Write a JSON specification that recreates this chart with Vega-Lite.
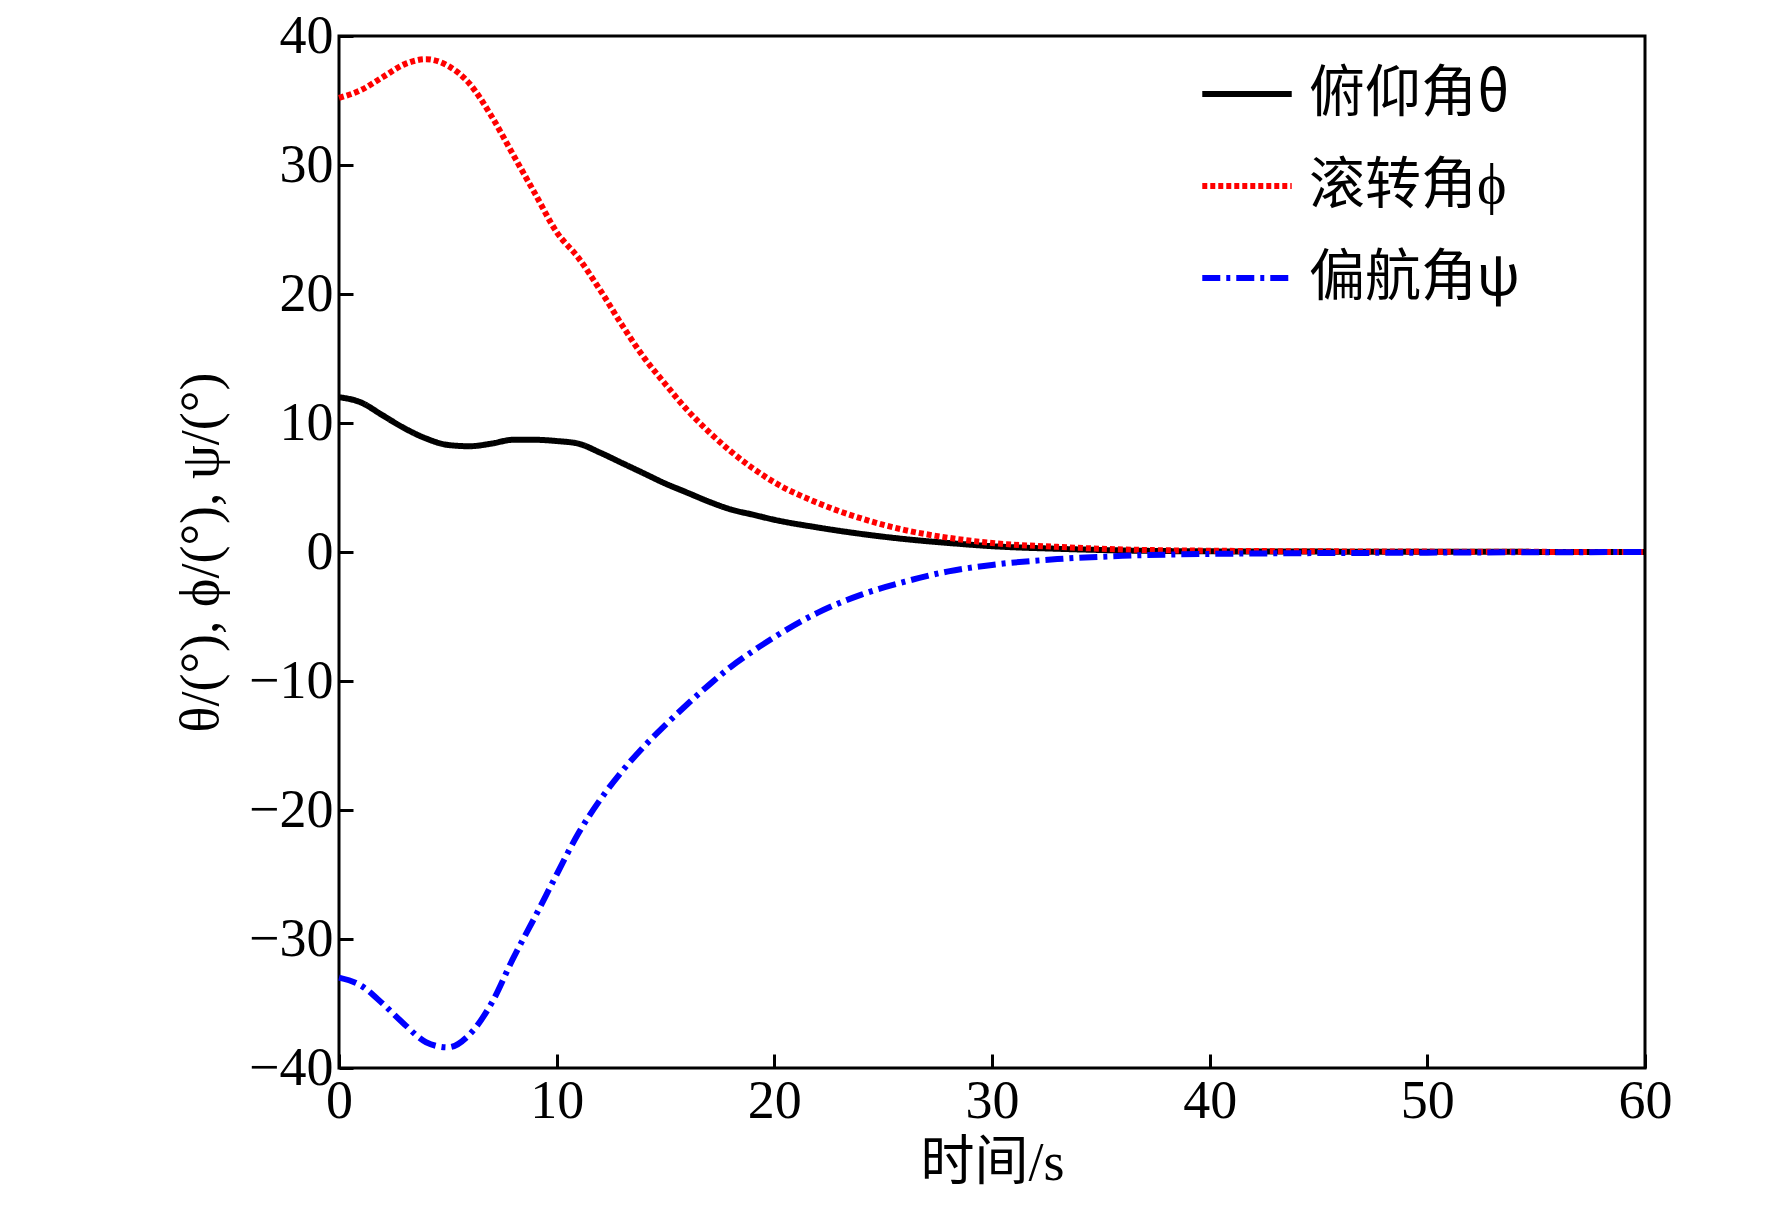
{
  "$schema": "https://vega.github.io/schema/vega-lite/v6.json",
  "width": 1306,
  "height": 1032,
  "autosize": "none",
  "padding": {"left": 339, "top": 36, "right": 127, "bottom": 164},
  "background": "white",
  "data": {
    "values": [
      {"t":0,"v":12,"s":"俯仰角θ"},{"t":1,"v":11.6,"s":"俯仰角θ"},{"t":2,"v":10.6,"s":"俯仰角θ"},{"t":3,"v":9.6,"s":"俯仰角θ"},{"t":4,"v":8.8,"s":"俯仰角θ"},{"t":5,"v":8.3,"s":"俯仰角θ"},{"t":6,"v":8.2,"s":"俯仰角θ"},{"t":7,"v":8.4,"s":"俯仰角θ"},{"t":8,"v":8.7,"s":"俯仰角θ"},{"t":9,"v":8.7,"s":"俯仰角θ"},{"t":10,"v":8.6,"s":"俯仰角θ"},{"t":11,"v":8.4,"s":"俯仰角θ"},{"t":12,"v":7.7,"s":"俯仰角θ"},{"t":13,"v":6.9,"s":"俯仰角θ"},{"t":14,"v":6.1,"s":"俯仰角θ"},{"t":15,"v":5.3,"s":"俯仰角θ"},{"t":16,"v":4.6,"s":"俯仰角θ"},{"t":17,"v":3.9,"s":"俯仰角θ"},{"t":18,"v":3.3,"s":"俯仰角θ"},{"t":19,"v":2.9,"s":"俯仰角θ"},{"t":20,"v":2.5,"s":"俯仰角θ"},{"t":22,"v":1.9,"s":"俯仰角θ"},{"t":24,"v":1.4,"s":"俯仰角θ"},{"t":26,"v":1.0,"s":"俯仰角θ"},{"t":28,"v":0.7,"s":"俯仰角θ"},{"t":30,"v":0.45,"s":"俯仰角θ"},{"t":33,"v":0.25,"s":"俯仰角θ"},{"t":36,"v":0.12,"s":"俯仰角θ"},{"t":40,"v":0.05,"s":"俯仰角θ"},{"t":50,"v":0.02,"s":"俯仰角θ"},{"t":60,"v":0,"s":"俯仰角θ"},
      {"t":0,"v":35.2,"s":"滚转角ϕ"},{"t":1,"v":35.8,"s":"滚转角ϕ"},{"t":2,"v":36.8,"s":"滚转角ϕ"},{"t":3,"v":37.8,"s":"滚转角ϕ"},{"t":4,"v":38.2,"s":"滚转角ϕ"},{"t":5,"v":37.7,"s":"滚转角ϕ"},{"t":6,"v":36.3,"s":"滚转角ϕ"},{"t":7,"v":33.8,"s":"滚转角ϕ"},{"t":8,"v":30.8,"s":"滚转角ϕ"},{"t":9,"v":27.8,"s":"滚转角ϕ"},{"t":10,"v":24.8,"s":"滚转角ϕ"},{"t":11,"v":22.8,"s":"滚转角ϕ"},{"t":12,"v":20.3,"s":"滚转角ϕ"},{"t":13,"v":17.6,"s":"滚转角ϕ"},{"t":14,"v":15.1,"s":"滚转角ϕ"},{"t":15,"v":13,"s":"滚转角ϕ"},{"t":16,"v":11,"s":"滚转角ϕ"},{"t":17,"v":9.3,"s":"滚转角ϕ"},{"t":18,"v":7.8,"s":"滚转角ϕ"},{"t":19,"v":6.5,"s":"滚转角ϕ"},{"t":20,"v":5.4,"s":"滚转角ϕ"},{"t":22,"v":3.8,"s":"滚转角ϕ"},{"t":24,"v":2.6,"s":"滚转角ϕ"},{"t":26,"v":1.7,"s":"滚转角ϕ"},{"t":28,"v":1.1,"s":"滚转角ϕ"},{"t":30,"v":0.7,"s":"滚转角ϕ"},{"t":33,"v":0.4,"s":"滚转角ϕ"},{"t":36,"v":0.2,"s":"滚转角ϕ"},{"t":40,"v":0.1,"s":"滚转角ϕ"},{"t":50,"v":0.03,"s":"滚转角ϕ"},{"t":60,"v":0,"s":"滚转角ϕ"},
      {"t":0,"v":-33,"s":"偏航角ψ"},{"t":1,"v":-33.6,"s":"偏航角ψ"},{"t":2,"v":-35,"s":"偏航角ψ"},{"t":3,"v":-36.6,"s":"偏航角ψ"},{"t":4,"v":-38,"s":"偏航角ψ"},{"t":5,"v":-38.4,"s":"偏航角ψ"},{"t":6,"v":-37.4,"s":"偏航角ψ"},{"t":7,"v":-35,"s":"偏航角ψ"},{"t":8,"v":-31.5,"s":"偏航角ψ"},{"t":9,"v":-28.3,"s":"偏航角ψ"},{"t":10,"v":-25,"s":"偏航角ψ"},{"t":11,"v":-21.8,"s":"偏航角ψ"},{"t":12,"v":-19.2,"s":"偏航角ψ"},{"t":13,"v":-17,"s":"偏航角ψ"},{"t":14,"v":-15.1,"s":"偏航角ψ"},{"t":15,"v":-13.4,"s":"偏航角ψ"},{"t":16,"v":-11.8,"s":"偏航角ψ"},{"t":17,"v":-10.3,"s":"偏航角ψ"},{"t":18,"v":-8.9,"s":"偏航角ψ"},{"t":19,"v":-7.7,"s":"偏航角ψ"},{"t":20,"v":-6.6,"s":"偏航角ψ"},{"t":22,"v":-4.7,"s":"偏航角ψ"},{"t":24,"v":-3.3,"s":"偏航角ψ"},{"t":26,"v":-2.3,"s":"偏航角ψ"},{"t":28,"v":-1.5,"s":"偏航角ψ"},{"t":30,"v":-1.0,"s":"偏航角ψ"},{"t":33,"v":-0.55,"s":"偏航角ψ"},{"t":36,"v":-0.3,"s":"偏航角ψ"},{"t":40,"v":-0.15,"s":"偏航角ψ"},{"t":50,"v":-0.05,"s":"偏航角ψ"},{"t":60,"v":0,"s":"偏航角ψ"}
    ]
  },
  "mark": {"type": "line", "interpolate": "monotone", "strokeWidth": 6},
  "encoding": {
    "x": {
      "field": "t", "type": "quantitative",
      "scale": {"domain": [0, 60], "nice": false},
      "axis": {"values": [0,10,20,30,40,50,60], "title": "时间/s", "titlePadding": 8, "labelFlush": false}
    },
    "y": {
      "field": "v", "type": "quantitative",
      "scale": {"domain": [-40, 40], "nice": false},
      "axis": {"values": [-40,-30,-20,-10,0,10,20,30,40], "title": "θ/(°), ϕ/(°), ψ/(°)", "titlePadding": 20, "labelFlush": false}
    },
    "color": {
      "field": "s", "type": "nominal",
      "scale": {"domain": ["俯仰角θ","滚转角ϕ","偏航角ψ"], "range": ["#000000","#ff0000","#0000ff"]},
      "legend": {"title": null, "orient": "none", "legendX": 860, "legendY": 10, "symbolType": "stroke", "symbolSize": 8000, "symbolStrokeWidth": 6, "labelFontSize": 56, "labelFont": "Noto Sans CJK SC", "labelLimit": 0, "rowPadding": 16, "labelOffset": 14}
    },
    "strokeDash": {
      "field": "s", "type": "nominal",
      "scale": {"domain": ["俯仰角θ","滚转角ϕ","偏航角ψ"], "range": [[1,0],[5,3],[18,6,4,6]]},
      "legend": null
    }
  },
  "config": {
    "view": {"stroke": "black", "strokeWidth": 3},
    "axis": {
      "grid": false, "domain": false, "tickColor": "black", "tickWidth": 3, "tickSize": -14,
      "labelFont": "Liberation Serif", "labelFontSize": 54, "labelColor": "black", "labelPadding": 20,
      "titleFont": "Liberation Serif, Noto Sans CJK SC", "titleFontSize": 54, "titleFontWeight": "normal", "titleColor": "black"
    }
  }
}
